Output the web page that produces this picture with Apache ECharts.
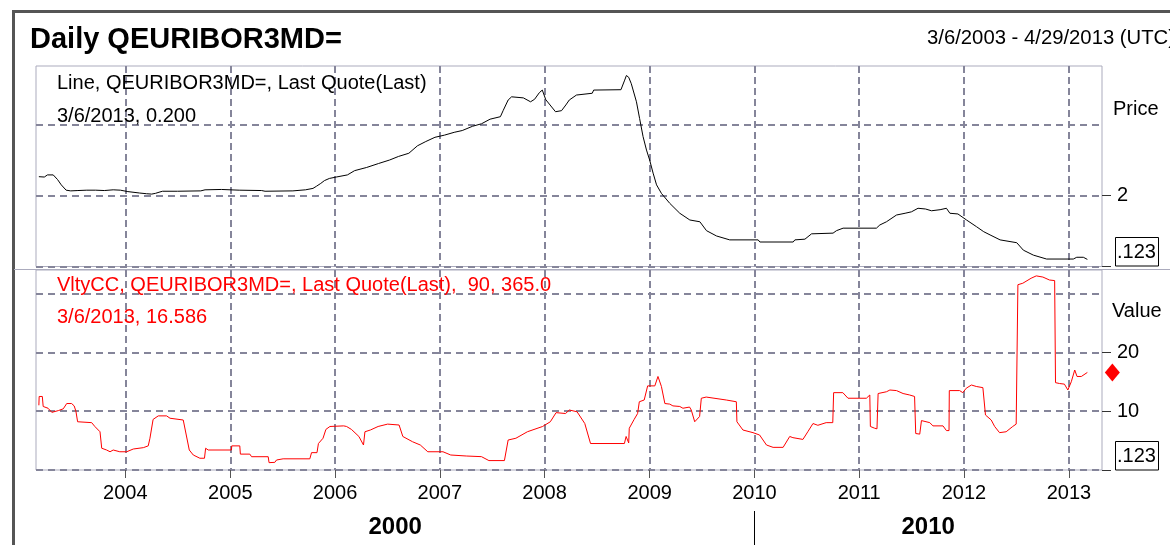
<!DOCTYPE html>
<html>
<head>
<meta charset="utf-8">
<script src="https://cdn.jsdelivr.net/npm/echarts@6/dist/echarts.min.js"></script>
<style>
html,body{margin:0;padding:0;background:#ffffff;}
#chart{width:1170px;height:545px;}
</style>
</head>
<body>
<div id="chart"></div>
<script>
// ---------------- data ----------------
const titleText = 'Daily QEURIBOR3MD=';
const rangeText = '3/6/2003 - 4/29/2013 (UTC)';
const priceLegend = ['Line, QEURIBOR3MD=, Last Quote(Last)', '3/6/2013, 0.200'];
const volLegend = ['VltyCC, QEURIBOR3MD=, Last Quote(Last),  90, 365.0', '3/6/2013, 16.586'];
const priceAxisName = 'Price';
const volAxisName = 'Value';
const lastValueBoxText = '.123';

const xMin = '2003-02-24';
const xMax = '2013-04-26';
const yearTicks = ['2004-01-01','2005-01-01','2006-01-01','2007-01-01','2008-01-01','2009-01-01','2010-01-01','2011-01-01','2012-01-01','2013-01-01'];
const decadeBreaks = ['2010-01-01'];

const priceGridValues = [0, 2, 4];
const priceTickValues = [0, 2];
const priceLabelValues = [2];
const volGridValues = [0, 10, 20, 30];
const volTickValues = [0, 10, 20];
const volLabelValues = [10, 20];

const priceDates = ['2003-03-06','2003-03-25','2003-04-05','2003-04-25','2003-05-10','2003-05-23','2003-06-09','2003-06-25','2003-07-20','2003-08-20','2003-09-20','2003-10-20','2003-11-20','2003-12-15',
'2004-01-10','2004-02-20','2004-03-15','2004-04-02','2004-04-15','2004-05-01','2004-05-10','2004-07-01','2004-09-20','2004-10-05','2004-12-01',
'2005-02-01','2005-04-20','2005-05-02','2005-08-07','2005-09-20','2005-10-16','2005-10-28','2005-11-12','2005-11-25','2005-12-12',
'2006-01-05','2006-02-13','2006-03-10','2006-04-21','2006-06-01','2006-07-10','2006-08-10','2006-09-15','2006-10-15','2006-11-13','2006-12-15',
'2007-01-17','2007-02-20','2007-03-20','2007-04-25','2007-05-26','2007-06-25','2007-07-31','2007-08-10','2007-08-27','2007-09-08','2007-10-19','2007-11-13','2007-11-27','2007-12-14','2007-12-24',
'2008-01-05','2008-01-20','2008-02-08','2008-02-29','2008-03-15','2008-03-27','2008-04-21','2008-06-15','2008-06-20','2008-09-23','2008-10-06','2008-10-12','2008-10-20','2008-10-29','2008-11-16','2008-11-27','2008-12-09','2008-12-21',
'2009-01-01','2009-01-13','2009-01-25','2009-02-11','2009-03-12','2009-04-16','2009-05-21','2009-06-25','2009-07-18','2009-08-22','2009-10-07',
'2010-01-14','2010-01-20','2010-05-16','2010-05-22','2010-06-26','2010-07-19','2010-10-02','2010-10-14','2010-11-06',
'2011-03-02','2011-03-14','2011-04-06','2011-05-11','2011-06-10','2011-07-02','2011-07-25','2011-08-20','2011-09-10','2011-10-10','2011-11-01','2011-11-13','2011-12-11',
'2012-01-10','2012-02-14','2012-03-10','2012-04-01','2012-05-06','2012-07-03','2012-07-26','2012-08-30','2012-10-15',
'2013-01-16','2013-01-28','2013-02-20','2013-03-06'];
const priceValues = [2.53,2.52,2.58,2.58,2.45,2.30,2.15,2.13,2.14,2.15,2.15,2.14,2.16,2.15,
2.11,2.07,2.05,2.04,2.06,2.10,2.12,2.12,2.13,2.16,2.17,
2.15,2.14,2.12,2.13,2.16,2.20,2.26,2.34,2.42,2.48,
2.52,2.58,2.70,2.79,2.90,3.00,3.10,3.19,3.40,3.52,3.64,
3.70,3.78,3.83,3.95,4.02,4.15,4.22,4.40,4.69,4.78,4.75,4.64,4.71,4.90,4.97,
4.70,4.55,4.36,4.39,4.55,4.69,4.83,4.88,4.97,4.98,5.25,5.38,5.33,5.15,4.64,4.17,3.66,3.28,
3.00,2.63,2.30,2.06,1.78,1.50,1.31,1.26,1.01,0.86,0.75,
0.75,0.69,0.69,0.75,0.77,0.92,0.94,1.01,1.08,
1.08,1.17,1.26,1.45,1.50,1.54,1.64,1.62,1.57,1.60,1.64,1.50,1.48,
1.31,1.12,0.98,0.89,0.75,0.67,0.46,0.32,0.21,
0.21,0.26,0.26,0.20];

const volDates = ['2003-03-06','2003-03-07','2003-03-18','2003-03-21','2003-04-07','2003-04-20','2003-05-13','2003-05-30','2003-06-11','2003-06-28','2003-07-07','2003-07-13','2003-07-19','2003-09-06','2003-09-17','2003-10-05','2003-10-11','2003-10-28','2003-11-09','2003-11-20','2003-12-13',
'2004-01-06','2004-01-29','2004-03-04','2004-03-21','2004-03-27','2004-04-07','2004-04-25','2004-05-24','2004-06-05','2004-07-21','2004-08-11','2004-08-25','2004-09-17','2004-10-03','2004-10-07','2004-10-16',
'2005-01-05','2005-01-06','2005-02-03','2005-02-05','2005-03-10','2005-03-16','2005-05-13','2005-05-16','2005-06-05','2005-06-11','2005-07-04','2005-10-05','2005-10-11','2005-10-30','2005-11-04','2005-11-20','2005-11-30','2005-12-14',
'2006-01-31','2006-02-10','2006-02-27','2006-03-25','2006-04-10','2006-04-15','2006-05-04','2006-05-31','2006-07-03','2006-08-12','2006-08-25','2006-09-28','2006-10-25','2006-11-20',
'2007-01-12','2007-02-08','2007-04-03','2007-05-26','2007-06-21','2007-08-14','2007-08-27','2007-09-23','2007-11-02','2007-12-25',
'2008-01-21','2008-02-10','2008-03-14','2008-03-27','2008-04-23','2008-05-20','2008-06-09','2008-10-05','2008-10-11','2008-10-20','2008-10-22','2008-11-08','2008-11-20','2008-11-26','2008-12-13','2008-12-25',
'2009-01-19','2009-01-30','2009-02-11','2009-02-23','2009-03-12','2009-03-23','2009-04-16','2009-04-27','2009-05-20','2009-05-26','2009-06-07','2009-06-24','2009-06-30','2009-07-17','2009-09-25','2009-10-30','2009-11-01','2009-11-22','2009-12-27',
'2010-01-19','2010-02-12','2010-03-07','2010-04-11','2010-05-04','2010-05-15','2010-06-19','2010-07-06','2010-07-24','2010-08-10','2010-09-08','2010-10-01','2010-10-04','2010-11-05','2010-11-23',
'2011-01-26','2011-02-07','2011-02-09','2011-02-24','2011-03-04','2011-03-08','2011-03-14','2011-04-06','2011-04-18','2011-05-11','2011-06-03','2011-06-26','2011-07-13','2011-07-17','2011-07-31','2011-08-06','2011-09-04','2011-09-15','2011-10-20','2011-11-01','2011-11-10','2011-11-11','2011-12-17','2011-12-28',
'2012-01-09','2012-01-27','2012-02-13','2012-03-07','2012-03-13','2012-03-16','2012-04-05','2012-04-17','2012-05-04','2012-05-27','2012-06-19','2012-07-01','2012-07-07','2012-07-24','2012-08-22','2012-09-09','2012-10-02','2012-10-25','2012-11-12','2012-11-15','2012-11-29','2012-12-16','2012-12-28',
'2013-01-09','2013-01-21','2013-01-29','2013-02-13','2013-02-18','2013-03-06'];
const volValues = [11.0,12.5,12.5,10.8,10.5,9.8,10.1,10.4,11.3,11.3,10.9,10.0,8.2,8.05,7.4,6.5,3.7,3.4,3.1,3.4,3.1,
3.1,3.57,3.8,4.1,5.4,8.6,9.2,9.2,8.8,8.5,3.4,2.55,2.0,2.0,3.7,3.4,
3.4,4.1,4.1,2.7,2.7,2.26,2.26,1.25,1.3,1.7,1.9,1.9,2.95,2.95,4.5,5.4,6.9,7.4,
7.5,7.4,6.9,5.7,4.25,6.5,6.8,7.4,7.8,7.65,5.7,4.8,4.25,3.1,
3.1,2.55,2.38,2.27,1.6,1.6,5.1,5.4,6.5,7.4,
8.2,9.75,9.6,10.2,9.9,7.9,4.5,4.5,5.7,4.6,7.1,8.6,9.6,11.6,11.9,14.3,
14.3,15.9,14.2,11.3,11.2,10.9,10.8,10.5,10.7,10.2,8.2,9.1,12.2,12.4,11.9,11.6,8.2,6.8,6.35,
5.95,4.25,3.85,3.85,5.7,5.5,5.2,6.5,7.9,7.6,8.05,8.05,13.15,13.15,12.2,
12.2,12.75,7.4,7.1,7.0,13.0,13.3,13.3,13.6,13.5,13.0,12.75,12.5,6.2,6.1,8.4,8.05,7.5,7.5,6.7,6.7,13.5,13.5,13.15,
13.9,14.45,14.2,14.0,14.2,9.35,8.5,7.4,6.35,6.5,7.4,7.8,31.5,31.75,32.6,33.0,32.8,32.3,32.2,14.85,14.7,14.6,13.6,
15.0,17.0,15.9,15.9,16.15,16.586];

// ---------------- helpers ----------------
function ts(s){ const p = s.split('-').map(Number); return Date.UTC(p[0], p[1]-1, p[2]); }
const FONT = '"Liberation Sans", Arial, sans-serif';
const GRID_COLOR = '#85859a';
const BORDER_COLOR = '#ababbd';
const RED = '#ff0000';

const minTs = ts(xMin), maxTs = ts(xMax);
const yearTs = yearTicks.map(ts);
const breakTs = decadeBreaks.map(ts);
const bounds = [minTs].concat(breakTs, [maxTs]);
const decadeMids = [];
for (let i = 0; i < bounds.length - 1; i++) decadeMids.push((bounds[i] + bounds[i+1]) / 2);

const priceData = priceDates.map((d, i) => [ts(d), priceValues[i]]);
const volData = volDates.map((d, i) => [ts(d), volValues[i]]);

const vSplit = {show:true, lineStyle:{color:GRID_COLOR, width:2, type:[7,4]}};
const hSplit = {show:true, lineStyle:{color:GRID_COLOR, width:2, type:[7,5]}};
const yearFmt = v => String(new Date(v).getUTCFullYear());
const decadeFmt = v => String(Math.floor(new Date(v).getUTCFullYear()/10)*10);

function gridYAxis(gi, max, interval, gridVals){
  return {type:'value', gridIndex:gi, position:'right', min:0, max:max, interval:interval,
    axisLine:{show:false}, axisTick:{show:false, customValues:gridVals}, axisLabel:{show:false},
    splitLine: hSplit};
}
function tickYAxis(gi, max, interval, tickVals, labelVals){
  return {type:'value', gridIndex:gi, position:'right', min:0, max:max, interval:interval,
    axisLine:{show:false},
    axisTick:{show:true, customValues:tickVals, length:9, lineStyle:{color:'#333333', width:1}},
    axisLabel:{show:true, customValues:labelVals, fontSize:20, color:'#000000', fontFamily:FONT, margin:15},
    splitLine:{show:false}};
}

const chart = echarts.init(document.getElementById('chart'), null, {renderer:'canvas'});
const option = {
  animation: false,
  backgroundColor: '#ffffff',
  textStyle: {fontFamily: FONT},
  grid: [
    {left:36, top:66, width:1066, height:200.5, show:true, borderColor:BORDER_COLOR, borderWidth:1, backgroundColor:'rgba(0,0,0,0)'},
    {left:36, top:270, width:1066, height:200, show:true, borderColor:BORDER_COLOR, borderWidth:1, backgroundColor:'rgba(0,0,0,0)'},
    {left:36, top:511, width:1066, height:34, show:false}
  ],
  xAxis: [
    {type:'value', gridIndex:0, min:minTs, max:maxTs, scale:true,
     axisLine:{show:false}, axisTick:{show:false, customValues:yearTs}, axisLabel:{show:false, customValues:yearTs},
     splitLine: vSplit},
    {type:'value', gridIndex:1, min:minTs, max:maxTs, scale:true,
     axisLine:{show:false},
     axisTick:{show:true, customValues:yearTs, length:8, lineStyle:{color:'#555555', width:1}},
     axisLabel:{show:true, customValues:yearTs, formatter:yearFmt, fontSize:20, color:'#000000', fontFamily:FONT, margin:13},
     splitLine: vSplit},
    {type:'value', gridIndex:2, position:'top', min:minTs, max:maxTs, scale:true,
     axisLine:{show:false},
     axisTick:{show:false, customValues:breakTs},
     axisLabel:{show:true, inside:true, customValues:decadeMids, formatter:decadeFmt,
       fontSize:24, fontWeight:'bold', color:'#000000', fontFamily:FONT, margin:4},
     splitLine:{show:true, lineStyle:{color:'#000000', width:1, type:'solid'}}}
  ],
  yAxis: [
    gridYAxis(0, 5.648, 2, priceGridValues),
    gridYAxis(1, 34, 10, volGridValues),
    tickYAxis(0, 5.648, 2, priceTickValues, priceLabelValues),
    tickYAxis(1, 34, 10, volTickValues, volLabelValues),
    {type:'value', gridIndex:2, show:false, min:0, max:1}
  ],
  series: [
    {type:'line', xAxisIndex:0, yAxisIndex:0, data:priceData, showSymbol:false, symbol:'none',
     lineStyle:{color:'#000000', width:1}, silent:true, z:3},
    {type:'line', xAxisIndex:1, yAxisIndex:1, data:volData, showSymbol:false, symbol:'none',
     lineStyle:{color:RED, width:1}, silent:true, z:3,
     markPoint:{silent:true, symbol:'diamond', symbolSize:[15,18], symbolOffset:[25,0], label:{show:false},
       itemStyle:{color:RED},
       data:[{coord:[volData[volData.length-1][0], volData[volData.length-1][1]]}]}}
  ],
  graphic: [
    {type:'rect', z:-1, shape:{x:13.5, y:11.5, width:1300, height:700}, style:{fill:'none', stroke:'#555555', lineWidth:3}, silent:true},
    {type:'line', z:1, shape:{x1:14, y1:269.5, x2:1170, y2:269.5}, style:{stroke:BORDER_COLOR, lineWidth:1}, silent:true},
    {type:'text', z:10, style:{text:titleText, x:30, y:40, verticalAlign:'middle', font:'bold 29px ' + FONT, fill:'#000000'}},
    {type:'text', z:10, style:{text:rangeText, x:927, y:38.5, verticalAlign:'middle', font:'20.3px ' + FONT, fill:'#000000'}},
    {type:'text', z:10, style:{text:priceLegend[0], x:57, y:83.5, verticalAlign:'middle', font:'20px ' + FONT, fill:'#000000'}},
    {type:'text', z:10, style:{text:priceLegend[1], x:57, y:116.5, verticalAlign:'middle', font:'20px ' + FONT, fill:'#000000'}},
    {type:'text', z:10, style:{text:volLegend[0], x:57, y:285, verticalAlign:'middle', font:'20px ' + FONT, fill:RED}},
    {type:'text', z:10, style:{text:volLegend[1], x:57, y:317, verticalAlign:'middle', font:'20px ' + FONT, fill:RED}},
    {type:'text', z:10, style:{text:priceAxisName, x:1113, y:109.5, verticalAlign:'middle', font:'20px ' + FONT, fill:'#000000'}},
    {type:'text', z:10, style:{text:volAxisName, x:1112, y:311, verticalAlign:'middle', font:'20px ' + FONT, fill:'#000000'}},
    {type:'rect', z:10, shape:{x:1115.5, y:237.5, width:43, height:28.5}, style:{fill:'#ffffff', stroke:'#000000', lineWidth:1}},
    {type:'text', z:11, style:{text:lastValueBoxText, x:1117, y:252, verticalAlign:'middle', font:'20px ' + FONT, fill:'#000000'}},
    {type:'rect', z:10, shape:{x:1115.5, y:441.5, width:43, height:28.5}, style:{fill:'#ffffff', stroke:'#000000', lineWidth:1}},
    {type:'text', z:11, style:{text:lastValueBoxText, x:1117, y:456, verticalAlign:'middle', font:'20px ' + FONT, fill:'#000000'}}
  ]
};
chart.setOption(option);
</script>
</body>
</html>
